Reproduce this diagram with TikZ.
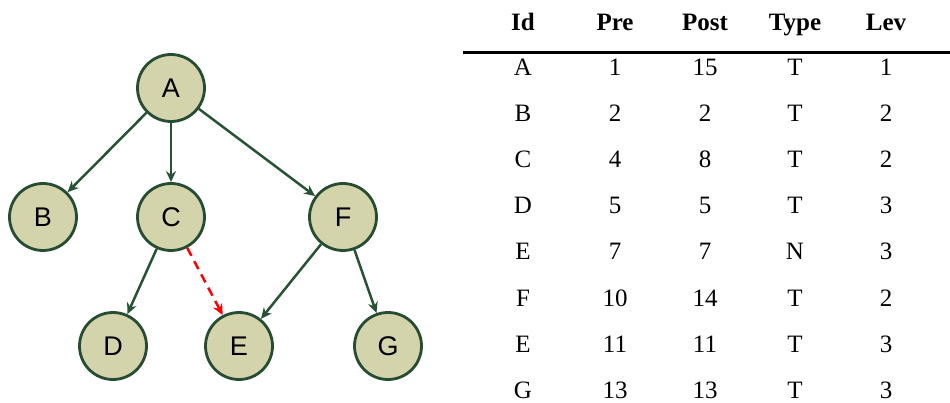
\documentclass[tikz,border=0pt]{standalone}
\usepackage{fontspec}
\setmainfont{Liberation Serif}
\newfontfamily\nodefont{Liberation Sans}
\usetikzlibrary{arrows.meta}
\definecolor{nodefill}{RGB}{211,211,172}
\definecolor{nodeline}{RGB}{38,76,50}
\definecolor{edgecol}{RGB}{40,82,52}
\begin{document}
\begin{tikzpicture}[x=1pt,y=-1pt,
  vertex/.style={circle,draw=nodeline,fill=nodefill,line width=2.8pt,
    minimum size=67pt,inner sep=0pt,font=\nodefont\fontsize{27}{27}\selectfont},
  treeedge/.style={draw=edgecol,line width=2.5pt,-{Stealth[length=11pt,width=10pt]}},
  extraedge/.style={draw=red,line width=2.5pt,dash pattern=on 9pt off 6pt,-{Stealth[length=11pt,width=10pt]}},
  cell/.style={font=\fontsize{25}{25}\selectfont,anchor=base,inner sep=0pt},
  head/.style={font=\fontsize{25}{25}\selectfont\bfseries,anchor=base,inner sep=0pt}]
\useasboundingbox (0,0) rectangle (950,403);
% tree
\node[vertex] (A) at (171,88) {A};
\node[vertex] (B) at (43,217) {B};
\node[vertex] (C) at (171,217) {C};
\node[vertex] (F) at (343,217) {F};
\node[vertex] (D) at (113,346) {D};
\node[vertex] (E) at (239,346) {E};
\node[vertex] (G) at (388,346) {G};
\draw[treeedge] (A) -- (B);
\draw[treeedge] (A) -- (C);
\draw[treeedge] (A) -- (F);
\draw[treeedge] (C) -- (D);
\draw[treeedge] (F) -- (E);
\draw[treeedge] (F) -- (G);
\draw[extraedge] (C) -- (E);
% table
\foreach \t/\x in {Id/523,Pre/615,Post/705,Type/795,Lev/886}
  \node[head] (h\t) at (\x,31) {\t};
\coordinate (ruleL) at (463,52.5);
\coordinate (ruleR) at (950,52.5);
\draw[line width=2.2pt] (ruleL) -- (ruleR);
\foreach \i/\a/\b/\c/\d/\e in {1/A/1/15/T/1,2/B/2/2/T/2,3/C/4/8/T/2,4/D/5/5/T/3,5/E/7/7/N/3,6/F/10/14/T/2,7/E/11/11/T/3,8/G/13/13/T/3}{
  \pgfmathsetmacro{\yy}{76+(\i-1)*46}
  \node[cell] (r\i c1) at (523,\yy) {\a};
  \node[cell] (r\i c2) at (615,\yy) {\b};
  \node[cell] (r\i c3) at (705,\yy) {\c};
  \node[cell] (r\i c4) at (795,\yy) {\d};
  \node[cell] (r\i c5) at (886,\yy) {\e};
}
\end{tikzpicture}
\end{document}
